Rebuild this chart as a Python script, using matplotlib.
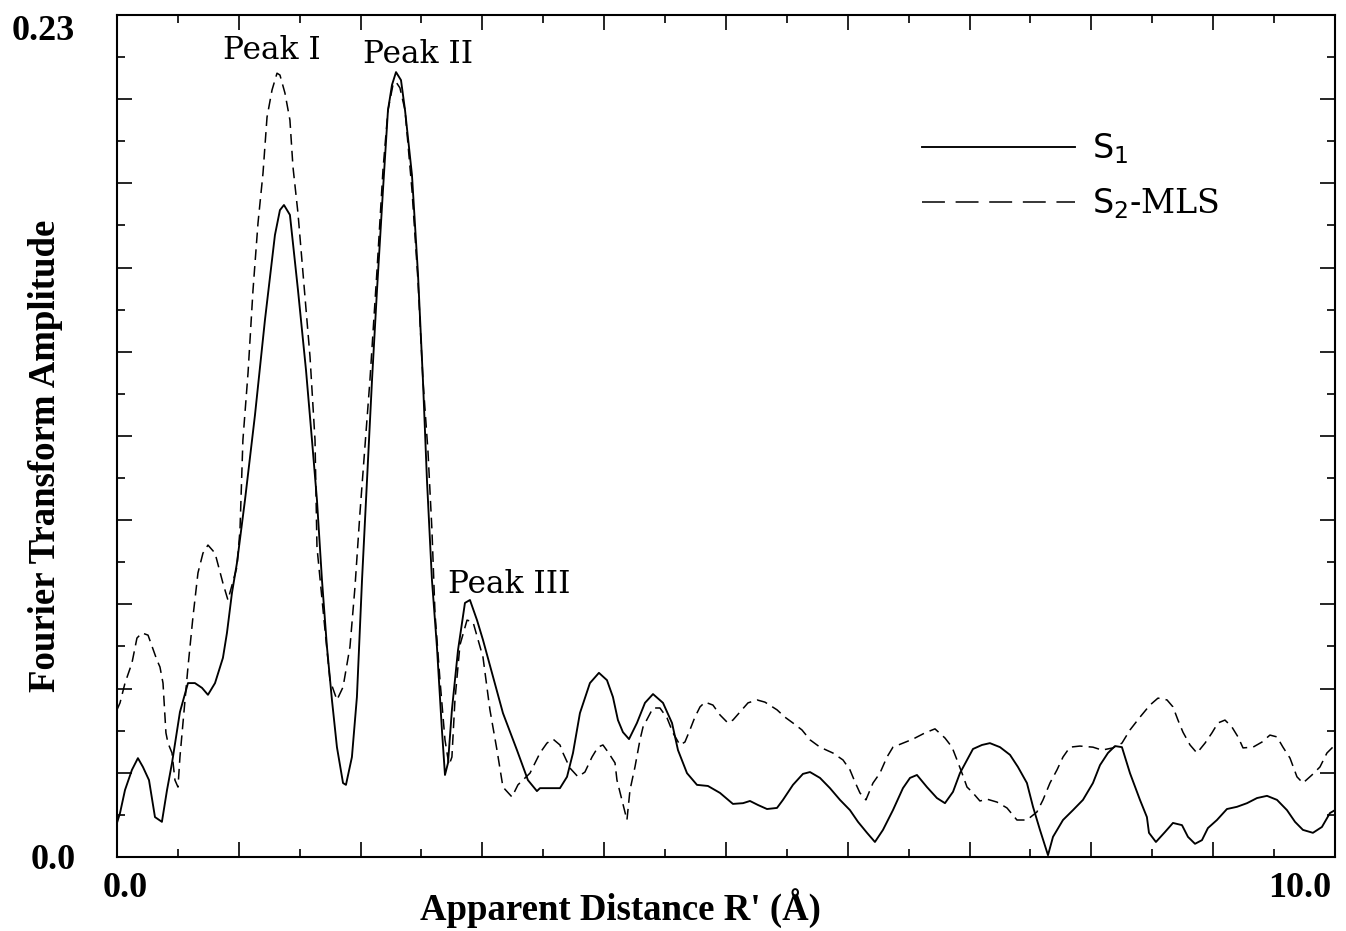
import numpy as np
import matplotlib
import matplotlib.pyplot as plt
from matplotlib.lines import Line2D
from matplotlib.transforms import ScaledTranslation

OUT = "out.png"

# Fourier transform magnitude, S1 spectrum
s1_r = [
    0.000, 0.025, 0.066, 0.123, 0.172, 0.213, 0.263, 0.312, 0.369, 0.411,
    0.452, 0.517, 0.583, 0.640, 0.698, 0.747, 0.805, 0.870, 0.903, 0.944,
    0.985, 1.051, 1.133, 1.215, 1.297, 1.338, 1.371, 1.420, 1.486, 1.552,
    1.601, 1.642, 1.683, 1.724, 1.765, 1.806, 1.856, 1.880, 1.929, 1.970,
    2.012, 2.053, 2.094, 2.135, 2.184, 2.225, 2.258, 2.291, 2.332, 2.365,
    2.422, 2.471, 2.512, 2.545, 2.586, 2.627, 2.668, 2.693, 2.718, 2.750,
    2.800, 2.857, 2.898, 2.956, 3.005, 3.079, 3.169, 3.284, 3.374, 3.448,
    3.473, 3.637, 3.695, 3.744, 3.801, 3.883, 3.957, 4.023, 4.072, 4.113,
    4.154, 4.204, 4.269, 4.335, 4.401, 4.483, 4.557, 4.606, 4.680, 4.762,
    4.852, 4.951, 5.057, 5.140, 5.197, 5.263, 5.337, 5.419, 5.468, 5.550,
    5.632, 5.690, 5.772, 5.854, 5.936, 6.018, 6.084, 6.158, 6.223, 6.289,
    6.371, 6.453, 6.511, 6.568, 6.650, 6.732, 6.798, 6.864, 6.921, 6.979,
    7.028, 7.102, 7.167, 7.250, 7.332, 7.397, 7.471, 7.521, 7.578, 7.644,
    7.685, 7.767, 7.849, 7.931, 8.013, 8.071, 8.136, 8.194, 8.251, 8.317,
    8.399, 8.456, 8.473, 8.530, 8.604, 8.670, 8.744, 8.793, 8.851, 8.908,
    8.957, 9.031, 9.113, 9.195, 9.278, 9.360, 9.442, 9.524, 9.606, 9.672,
    9.737, 9.819, 9.893, 9.959, 10.000,
]
s1_amp = [
    0.0093, 0.0120, 0.0183, 0.0238, 0.0270, 0.0246, 0.0210, 0.0109, 0.0096, 0.0183,
    0.0257, 0.0396, 0.0475, 0.0475, 0.0462, 0.0443, 0.0475, 0.0544, 0.0612, 0.0721,
    0.0803, 0.0975, 0.1207, 0.1467, 0.1699, 0.1767, 0.1781, 0.1754, 0.1549, 0.1330,
    0.1139, 0.0975, 0.0757, 0.0574, 0.0429, 0.0300, 0.0202, 0.0197, 0.0273, 0.0437,
    0.0757, 0.1030, 0.1303, 0.1549, 0.1822, 0.2040, 0.2109, 0.2144, 0.2122, 0.2040,
    0.1863, 0.1595, 0.1303, 0.1030, 0.0757, 0.0574, 0.0347, 0.0224, 0.0257, 0.0402,
    0.0565, 0.0694, 0.0702, 0.0647, 0.0593, 0.0503, 0.0393, 0.0292, 0.0210, 0.0180,
    0.0188, 0.0188, 0.0219, 0.0284, 0.0393, 0.0475, 0.0503, 0.0483, 0.0437, 0.0374,
    0.0341, 0.0322, 0.0366, 0.0421, 0.0445, 0.0421, 0.0366, 0.0292, 0.0229, 0.0197,
    0.0194, 0.0175, 0.0145, 0.0147, 0.0153, 0.0142, 0.0131, 0.0134, 0.0156, 0.0197,
    0.0227, 0.0232, 0.0216, 0.0188, 0.0156, 0.0128, 0.0096, 0.0066, 0.0041, 0.0074,
    0.0128, 0.0188, 0.0216, 0.0224, 0.0191, 0.0161, 0.0147, 0.0178, 0.0229, 0.0265,
    0.0295, 0.0306, 0.0311, 0.0300, 0.0279, 0.0246, 0.0202, 0.0137, 0.0074, 0.0005,
    0.0055, 0.0101, 0.0128, 0.0156, 0.0202, 0.0251, 0.0284, 0.0303, 0.0300, 0.0229,
    0.0156, 0.0109, 0.0066, 0.0041, 0.0068, 0.0093, 0.0087, 0.0055, 0.0036, 0.0046,
    0.0079, 0.0101, 0.0131, 0.0137, 0.0147, 0.0161, 0.0167, 0.0156, 0.0128, 0.0096,
    0.0074, 0.0066, 0.0082, 0.0120, 0.0128,
]

# S2 after MLS processing
s2_r = [
    0.000, 0.025, 0.066, 0.123, 0.164, 0.205, 0.255, 0.328, 0.353, 0.378,
    0.402, 0.419, 0.452, 0.476, 0.501, 0.517, 0.542, 0.583, 0.624, 0.665,
    0.706, 0.747, 0.805, 0.870, 0.911, 0.985, 1.010, 1.034, 1.076, 1.117,
    1.158, 1.199, 1.232, 1.273, 1.314, 1.338, 1.379, 1.420, 1.445, 1.486,
    1.527, 1.585, 1.626, 1.642, 1.708, 1.749, 1.806, 1.856, 1.913, 1.954,
    1.995, 2.036, 2.077, 2.135, 2.184, 2.225, 2.266, 2.291, 2.323, 2.365,
    2.422, 2.471, 2.512, 2.553, 2.586, 2.611, 2.652, 2.693, 2.726, 2.750,
    2.775, 2.816, 2.874, 2.923, 3.005, 3.062, 3.120, 3.169, 3.243, 3.292,
    3.391, 3.473, 3.530, 3.580, 3.637, 3.662, 3.719, 3.785, 3.842, 3.900,
    3.949, 3.990, 4.031, 4.089, 4.105, 4.146, 4.187, 4.212, 4.253, 4.294,
    4.319, 4.401, 4.458, 4.516, 4.565, 4.622, 4.663, 4.704, 4.745, 4.787,
    4.828, 4.893, 4.951, 5.016, 5.057, 5.115, 5.181, 5.255, 5.320, 5.419,
    5.484, 5.550, 5.624, 5.690, 5.772, 5.878, 5.961, 6.018, 6.059, 6.100,
    6.149, 6.207, 6.264, 6.322, 6.371, 6.453, 6.535, 6.634, 6.716, 6.798,
    6.856, 6.897, 6.938, 6.979, 7.020, 7.085, 7.143, 7.225, 7.307, 7.389,
    7.471, 7.553, 7.603, 7.660, 7.718, 7.767, 7.824, 7.906, 8.013, 8.087,
    8.177, 8.251, 8.317, 8.399, 8.481, 8.547, 8.621, 8.670, 8.711, 8.752,
    8.810, 8.867, 8.933, 8.990, 9.039, 9.097, 9.154, 9.204, 9.245, 9.327,
    9.401, 9.466, 9.524, 9.573, 9.631, 9.688, 9.737, 9.811, 9.877, 9.934,
    10.000,
]
s2_amp = [
    0.0402, 0.0421, 0.0475, 0.0530, 0.0598, 0.0612, 0.0606, 0.0538, 0.0519, 0.0475,
    0.0339, 0.0311, 0.0284, 0.0210, 0.0191, 0.0273, 0.0366, 0.0519, 0.0656, 0.0776,
    0.0830, 0.0852, 0.0830, 0.0748, 0.0702, 0.0792, 0.0893, 0.1139, 0.1322, 0.1549,
    0.1732, 0.1868, 0.2021, 0.2095, 0.2141, 0.2136, 0.2087, 0.2013, 0.1885, 0.1759,
    0.1595, 0.1366, 0.1139, 0.0847, 0.0620, 0.0483, 0.0429, 0.0464, 0.0574, 0.0737,
    0.0940, 0.1120, 0.1303, 0.1603, 0.1877, 0.2040, 0.2109, 0.2117, 0.2101, 0.2040,
    0.1822, 0.1576, 0.1303, 0.1111, 0.0893, 0.0666, 0.0483, 0.0320, 0.0251, 0.0273,
    0.0429, 0.0579, 0.0647, 0.0642, 0.0546, 0.0402, 0.0292, 0.0191, 0.0164, 0.0197,
    0.0229, 0.0284, 0.0311, 0.0322, 0.0306, 0.0284, 0.0243, 0.0219, 0.0232, 0.0273,
    0.0300, 0.0306, 0.0287, 0.0257, 0.0210, 0.0156, 0.0101, 0.0183, 0.0246, 0.0320,
    0.0355, 0.0407, 0.0407, 0.0380, 0.0339, 0.0306, 0.0314, 0.0347, 0.0382, 0.0410,
    0.0423, 0.0415, 0.0388, 0.0366, 0.0374, 0.0396, 0.0421, 0.0429, 0.0423, 0.0402,
    0.0382, 0.0366, 0.0347, 0.0320, 0.0300, 0.0284, 0.0265, 0.0238, 0.0205, 0.0175,
    0.0156, 0.0202, 0.0229, 0.0273, 0.0300, 0.0311, 0.0322, 0.0339, 0.0350, 0.0325,
    0.0300, 0.0265, 0.0229, 0.0191, 0.0178, 0.0153, 0.0158, 0.0150, 0.0134, 0.0101,
    0.0101, 0.0123, 0.0156, 0.0202, 0.0238, 0.0273, 0.0300, 0.0303, 0.0300, 0.0292,
    0.0298, 0.0311, 0.0347, 0.0382, 0.0415, 0.0434, 0.0429, 0.0410, 0.0374, 0.0341,
    0.0306, 0.0284, 0.0311, 0.0339, 0.0366, 0.0374, 0.0355, 0.0328, 0.0298, 0.0300,
    0.0314, 0.0333, 0.0328, 0.0300, 0.0270, 0.0219, 0.0202, 0.0224, 0.0246, 0.0284,
    0.0306,
]

# peak annotations: (label, R', amplitude at text baseline)
peak_labels = ["Peak I", "Peak II", "Peak III"]
peak_x = [1.273, 2.471, 3.218]
peak_y = [0.2180, 0.2169, 0.0721]

X_MAX = 10.0
Y_MAX = 0.23

SERIF_BOLD = dict(family="Liberation Serif", weight="bold", size=26.5)


def main():
    matplotlib.rcParams["mathtext.fontset"] = "dejavuserif"

    fig = plt.figure(figsize=(13.46, 9.31), dpi=100)
    ax = fig.add_axes([0.0869, 0.0795, 0.9049, 0.9044])

    ax.plot(s1_r, s1_amp, color="black", lw=1.35, solid_joinstyle="round")
    ax.plot(s2_r, s2_amp, color="black", lw=1.1, linestyle=(0, (7, 4)))

    ax.set_xlim(0, X_MAX)
    ax.set_ylim(0, Y_MAX)

    # ticks on all four sides, pointing inward, long/short alternating
    ax.set_xticks(np.arange(0, 11, 1.0))
    ax.set_xticks(np.arange(0.5, 10, 1.0), minor=True)
    yt = np.linspace(0, Y_MAX, 21)
    ax.set_yticks(yt[::2])
    ax.set_yticks(yt[1::2], minor=True)

    xlabels = [""] * 11
    xlabels[0], xlabels[-1] = "0.0", "10.0"
    ax.set_xticklabels(xlabels, fontdict=dict(SERIF_BOLD, size=26))
    ylabels = [""] * 11
    ylabels[0], ylabels[-1] = "0.0", "0.23"
    ax.set_yticklabels(ylabels, fontdict=dict(SERIF_BOLD, size=26))

    ax.tick_params(which="both", direction="in", top=True, right=True,
                   width=1.2, color="black")
    ax.tick_params(which="major", length=10.8)
    ax.tick_params(which="minor", length=5.8)
    ax.tick_params(axis="x", which="major", pad=11)
    ax.tick_params(axis="y", which="major", pad=30)

    # end labels sit slightly inside the axis ends
    xt = ax.get_xticklabels()
    xt[0].set_transform(xt[0].get_transform()
                        + ScaledTranslation(0.08, 0, fig.dpi_scale_trans))
    xt[-1].set_ha("right")
    xt[-1].set_transform(xt[-1].get_transform()
                         + ScaledTranslation(-0.04, 0, fig.dpi_scale_trans))
    ax.get_yticklabels()[-1].set_va("top")

    for sp in ax.spines.values():
        sp.set_linewidth(1.5)

    ax.set_xlabel("Apparent Distance R' (Å)", fontdict=SERIF_BOLD, va="center")
    ax.xaxis.set_label_coords(0.413, -0.0606)
    ax.set_ylabel("Fourier Transform Amplitude", fontdict=SERIF_BOLD, va="center")
    ax.yaxis.set_label_coords(-0.059, 0.476)

    for name, px, py in zip(peak_labels, peak_x, peak_y):
        ax.text(px, py, name, family="DejaVu Serif", size=22.5,
                ha="center", va="baseline")

    handles = [
        Line2D([], [], color="black", lw=1.35),
        Line2D([], [], color="black", lw=1.1, linestyle=(0, (15, 7))),
    ]
    ax.legend(handles, [r"$\mathsf{S}_{\mathsf{1}}$",
                        r"$\mathsf{S}_{\mathsf{2}}$-MLS"],
              loc="upper left", bbox_to_anchor=(0.661, 0.861),
              frameon=False, borderpad=0, borderaxespad=0,
              handlelength=4.6, handletextpad=0.5, labelspacing=0.6,
              prop=dict(family="DejaVu Serif", size=24))

    fig.savefig(OUT, dpi=100)
    plt.close(fig)


if __name__ == "__main__":
    main()
